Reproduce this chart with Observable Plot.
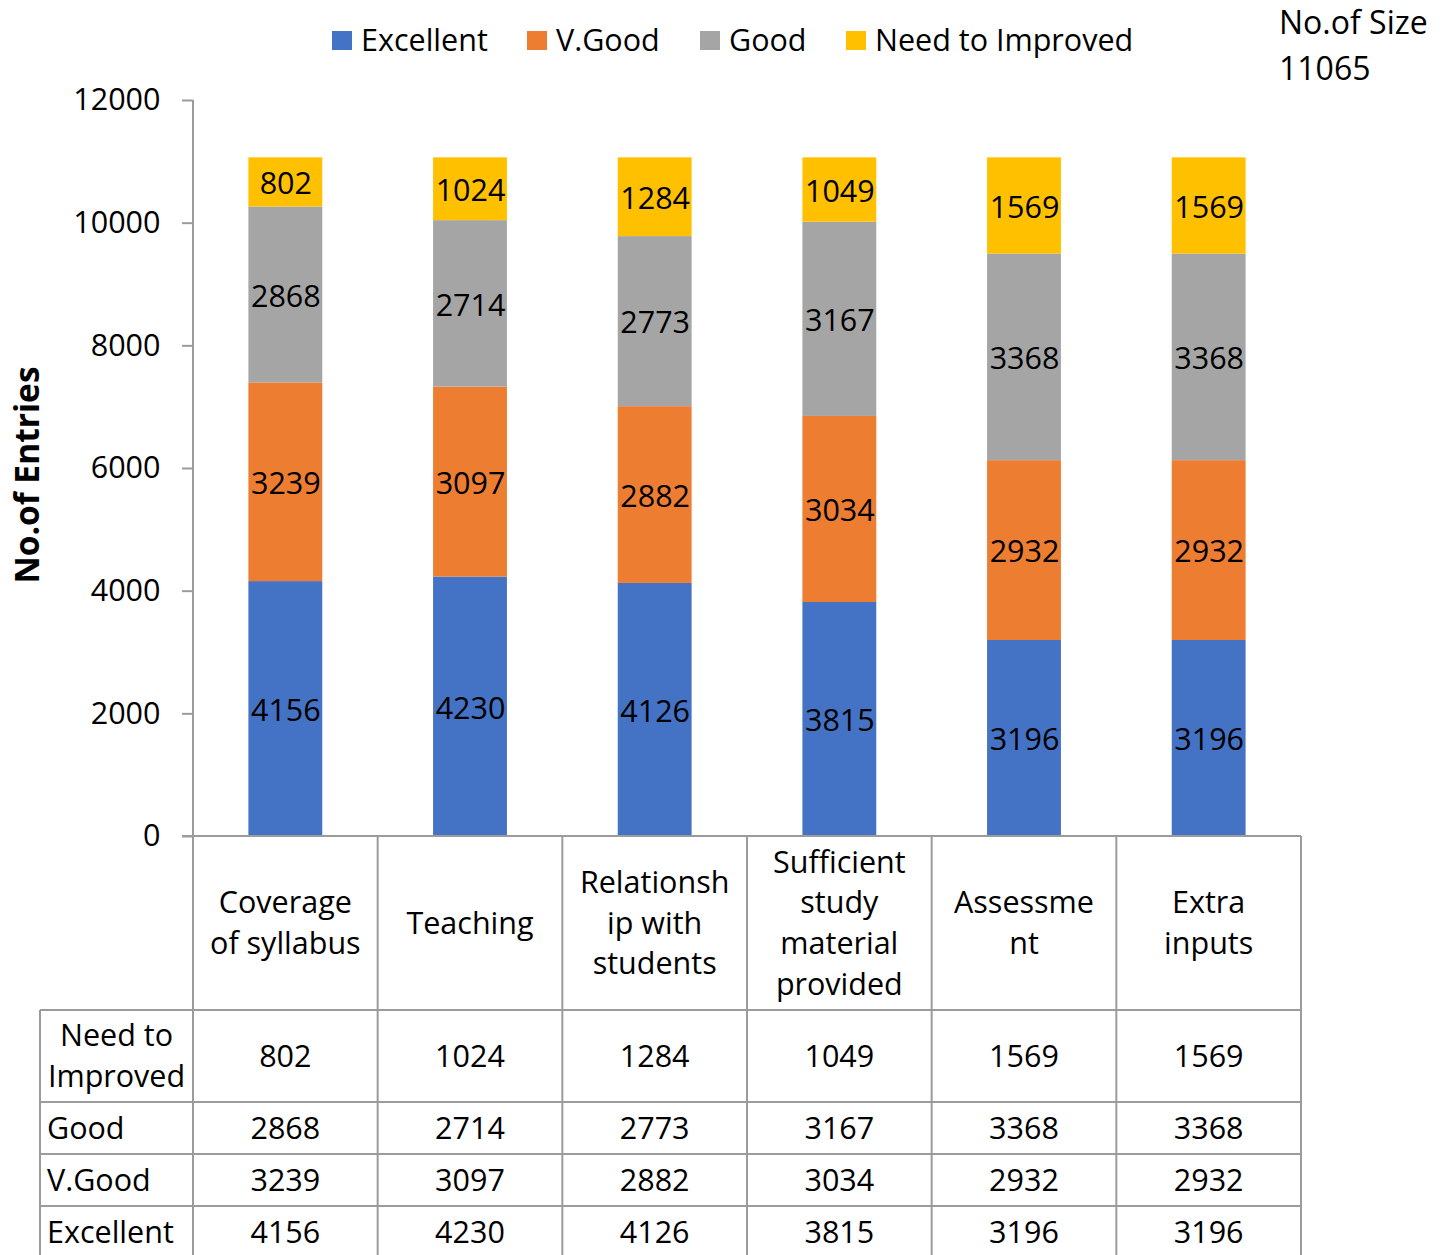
<!DOCTYPE html>
<html><head><meta charset="utf-8">
<script src="https://cdn.jsdelivr.net/npm/d3@7"></script>
<script src="https://cdn.jsdelivr.net/npm/@observablehq/plot@0.6"></script>
<style>
body{margin:0;background:#fff;font-family:"Open Sans",sans-serif;}
#wrap{position:relative;width:1453px;height:1255px;overflow:hidden;background:#fff;}
</style></head><body><div id="wrap"></div>
<script>
const categories = ["Coverage of syllabus","Teaching","Relationship with students","Sufficient study material provided","Assessment","Extra inputs"];
const tickLabels = ["Coverage\nof syllabus","Teaching","Relationsh\nip with\nstudents","Sufficient\nstudy\nmaterial\nprovided","Assessme\nnt","Extra\ninputs"];
const series = ["Excellent","V.Good","Good","Need to Improved"];
const excellent = [4156,4230,4126,3815,3196,3196];
const vgood = [3239,3097,2882,3034,2932,2932];
const good = [2868,2714,2773,3167,3368,3368];
const needImprove = [802,1024,1284,1049,1569,1569];
const colors = ["#4472C4","#ED7D31","#A5A5A5","#FFC000"];
const yTicks = [0,2000,4000,6000,8000,10000,12000];
const sampleLabel = "No.of Size";
const sampleSize = 11065;
const yTitle = "No.of Entries";
const tableRows = [
  {label:"Need to\nImproved", values: needImprove, centered:true},
  {label:"Good", values: good},
  {label:"V.Good", values: vgood},
  {label:"Excellent", values: excellent}
];

const valuesBySeries = [excellent, vgood, good, needImprove];
const data = [];
series.forEach((s, si) => categories.forEach((c, ci) => data.push({category:c, series:s, value:valuesBySeries[si][ci]})));

const FONT = "Open Sans";
const FS = 30.5;
const GRID = "#9b9b9b";

const chart = Plot.plot({
  width:1453, height:1255,
  marginLeft:193, marginRight:152, marginTop:100, marginBottom:419,
  style:{fontFamily:FONT, fontSize:FS+"px", color:"#000", background:"#fff", overflow:"visible"},
  x:{domain:categories, paddingInner:0.6, paddingOuter:0.3, round:false, axis:null},
  y:{domain:[0,12000], axis:null},
  color:{domain:series, range:colors},
  marks:[
    Plot.barY(data, {x:"category", y:"value", fill:"series", order:series}),
    Plot.text(data, Plot.stackY({x:"category", y:"value", z:"series", order:series, text:d=>String(d.value), fill:"#000", fontSize:FS, dy:2})),
    Plot.axisY({ticks:yTicks, tickSize:11, tickPadding:22, tickFormat:d=>String(d), stroke:GRID, strokeWidth:2, fontSize:FS, label:null, fill:"#000"})
  ]
});
document.getElementById("wrap").prepend(chart);

const xs = chart.scale("x"), ys = chart.scale("y");
const bw = xs.bandwidth;
const step = xs.step || bw/(1-0.6);
const colLeft = c => xs.apply(c) - (step - bw)/2;
const colCenter = c => xs.apply(c) + bw/2;
const plotLeft = colLeft(categories[0]);
const plotRight = colLeft(categories[categories.length-1]) + step;
const y0 = ys.apply(0), yTop = ys.apply(12000);
const labelLeft = 40;
const rowH = [174, 92, 52, 52, 52];
const edges = [y0]; rowH.forEach(h => edges.push(edges[edges.length-1] + h));

const svg = d3.select(chart);
const g = svg.append("g").attr("font-family", FONT).attr("font-size", FS).attr("fill", "#000");
const line = (x1,y1,x2,y2) => g.append("line").attr("x1",x1).attr("y1",y1).attr("x2",x2).attr("y2",y2).attr("stroke",GRID).attr("stroke-width",2);

// y axis line
line(plotLeft, yTop, plotLeft, y0);
// table lines
line(plotLeft - 11, edges[0], plotRight, edges[0]);
for (let i = 1; i < edges.length; i++) line(labelLeft, edges[i], plotRight, edges[i]);
categories.forEach(c => line(colLeft(c), edges[0], colLeft(c), 1260));
line(plotRight, edges[0], plotRight, 1260);
line(labelLeft, edges[1], labelLeft, 1260);

const LH = 40.7;
const multi = (x, yc, txt, anchor) => {
  const lines = txt.split("\n");
  const t = g.append("text").attr("text-anchor", anchor);
  lines.forEach((l, i) => t.append("tspan").attr("x", x).attr("y", yc + (i - (lines.length-1)/2)*LH).attr("dy","0.35em").text(l));
};
// header row
categories.forEach((c, i) => multi(colCenter(c), (edges[0]+edges[1])/2, tickLabels[i], "middle"));
// data rows
tableRows.forEach((r, ri) => {
  const yc = (edges[ri+1] + edges[ri+2]) / 2;
  if (r.centered) multi((labelLeft + plotLeft)/2, yc, r.label, "middle");
  else multi(labelLeft + 7, yc, r.label, "start");
  categories.forEach((c, ci) => multi(colCenter(c), yc, String(r.values[ci]), "middle"));
});

// y title
g.append("text").attr("transform", `translate(27,475) rotate(-90)`).attr("text-anchor","middle").attr("dy","0.35em")
  .attr("font-weight","bold").attr("font-size",33.5).text(yTitle);

// legend
const legX = [332, 527, 700, 846];
series.forEach((s, i) => {
  g.append("rect").attr("x", legX[i]).attr("y", 31).attr("width", 20).attr("height", 19).attr("fill", colors[i]);
  g.append("text").attr("x", legX[i] + 29).attr("y", 40).attr("dy","0.35em").attr("text-anchor","start").attr("font-size",30.5).text(s);
});

// sample size note
g.append("text").attr("x", 1279).attr("y", 34).attr("text-anchor","start").attr("font-size",32).text(sampleLabel);
g.append("text").attr("x", 1279).attr("y", 80).attr("text-anchor","start").attr("font-size",32).text(String(sampleSize));
</script></body></html>
